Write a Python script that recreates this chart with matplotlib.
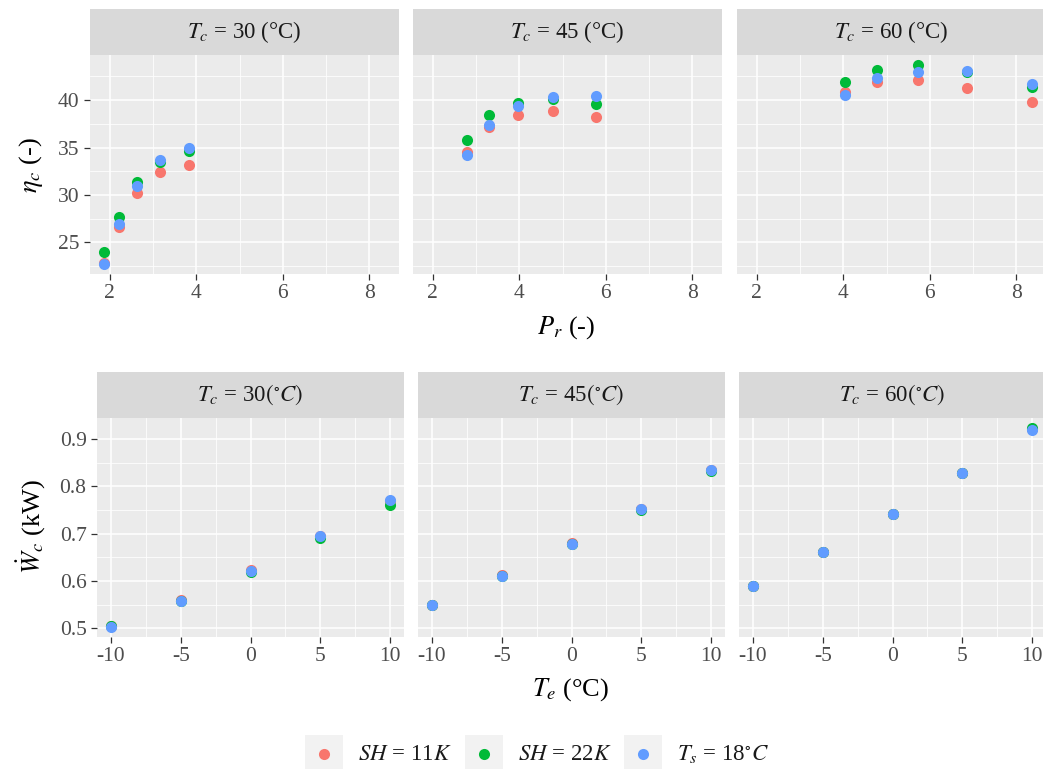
import matplotlib
matplotlib.use("Agg")
import matplotlib.pyplot as plt
from matplotlib.patches import Rectangle
from matplotlib.ticker import MultipleLocator, FormatStrFormatter

# fonts: Times-like text, STIX for the math parts
plt.rcParams['font.family'] = ['Liberation Serif', 'DejaVu Serif']
plt.rcParams['mathtext.fontset'] = 'stix'
plt.rcParams['axes.unicode_minus'] = False

# ---- data ----
series_labels = [r"$SH$ = 11$K$", r"$SH$ = 22$K$", r"$T_s$ = 18$^{\circ}C$"]
series_colors = ['#F8766D', '#00BA38', '#619CFF']
tc_values = [30, 45, 60]

# pressure ratio (x of the top row) for each condensing temperature
pr_30 = [1.87, 2.21, 2.63, 3.17, 3.84]
pr_45 = [2.80, 3.31, 3.96, 4.77, 5.78]
pr_60 = [4.04, 4.79, 5.72, 6.87, 8.36]

# efficiency eta_c (-)
eta_30_sh11 = [22.86, 26.66, 30.22, 32.40, 33.18]
eta_30_sh22 = [24.00, 27.72, 31.38, 33.45, 34.58]
eta_30_ts18 = [22.72, 26.95, 30.92, 33.70, 35.00]

eta_45_sh11 = [34.50, 37.12, 38.42, 38.84, 38.20]
eta_45_sh22 = [35.82, 38.38, 39.72, 40.15, 39.58]
eta_45_ts18 = [34.23, 37.40, 39.37, 40.32, 40.46]

eta_60_sh11 = [40.85, 41.87, 42.08, 41.27, 39.76]
eta_60_sh22 = [41.90, 43.20, 43.70, 42.96, 41.34]
eta_60_ts18 = [40.50, 42.32, 42.96, 43.10, 41.69]

# evaporating temperature (x of the bottom row)
te = [-10, -5, 0, 5, 10]

# compressor power W_c (kW)
w_30_sh11 = [0.504, 0.560, 0.622, 0.694, 0.768]
w_30_sh22 = [0.505, 0.558, 0.618, 0.690, 0.761]
w_30_ts18 = [0.503, 0.557, 0.620, 0.694, 0.770]

w_45_sh11 = [0.549, 0.612, 0.680, 0.752, 0.834]
w_45_sh22 = [0.549, 0.611, 0.678, 0.750, 0.832]
w_45_ts18 = [0.549, 0.611, 0.679, 0.751, 0.835]

w_60_sh11 = [0.590, 0.662, 0.741, 0.828, 0.921]
w_60_sh22 = [0.590, 0.662, 0.741, 0.828, 0.924]
w_60_ts18 = [0.590, 0.662, 0.741, 0.828, 0.919]

top_x = [pr_30, pr_45, pr_60]
top_y = [[eta_30_sh11, eta_30_sh22, eta_30_ts18],
         [eta_45_sh11, eta_45_sh22, eta_45_ts18],
         [eta_60_sh11, eta_60_sh22, eta_60_ts18]]
bot_y = [[w_30_sh11, w_30_sh22, w_30_ts18],
         [w_45_sh11, w_45_sh22, w_45_ts18],
         [w_60_sh11, w_60_sh22, w_60_ts18]]

# ---- figure ----
W, H = 1043, 769
fig = plt.figure(figsize=(W / 100, H / 100), dpi=100)


def px_axes(x0, y0, x1, y1, **kw):
    # axes placed with pixel edges (origin top-left)
    return fig.add_axes([x0 / W, 1 - y1 / H, (x1 - x0) / W, (y1 - y0) / H], **kw)


def gg_style(ax):
    ax.set_facecolor('#EBEBEB')
    for s in ax.spines.values():
        s.set_visible(False)
    ax.grid(True, which='major', color='white', linewidth=1.1)
    ax.grid(True, which='minor', color='white', linewidth=0.55)
    ax.set_axisbelow(True)
    ax.tick_params(which='major', length=4.5, width=0.9, color='#333333',
                   labelcolor='#4D4D4D', labelsize=15.5, pad=3)
    ax.tick_params(which='minor', length=0)


def strip(x0, x1, y0, y1, text):
    s = px_axes(x0, y0, x1, y1)
    s.set_facecolor('#D9D9D9')
    s.set_xticks([])
    s.set_yticks([])
    for sp in s.spines.values():
        sp.set_visible(False)
    s.text(0.5, 0.5, text, ha='center', va='center', fontsize=16.5,
           color='#1A1A1A', transform=s.transAxes)


# top row: eta_c vs P_r
top_cols = [(90, 399), (413, 722), (737, 1046)]
top_axes = []
for i, (x0, x1) in enumerate(top_cols):
    share = top_axes[0] if top_axes else None
    ax = px_axes(x0, 55, x1, 274, sharex=share, sharey=share)
    gg_style(ax)
    for ys, c in zip(top_y[i], series_colors):
        ax.scatter(top_x[i], ys, s=64, color=c, linewidths=0, zorder=3)
    ax.xaxis.set_major_locator(MultipleLocator(2))
    ax.xaxis.set_minor_locator(MultipleLocator(1))
    ax.yaxis.set_major_locator(MultipleLocator(5))
    ax.yaxis.set_minor_locator(MultipleLocator(2.5))
    if i > 0:
        ax.tick_params(axis='y', which='both', left=False, labelleft=False)
    top_axes.append(ax)
    strip(x0, x1, 9, 55, r"$T_c$ = %d (°C)" % tc_values[i])

# bottom row: W_c vs T_e
bot_cols = [(97, 404), (418, 725), (739, 1046)]
bot_axes = []
for i, (x0, x1) in enumerate(bot_cols):
    share = bot_axes[0] if bot_axes else None
    ax = px_axes(x0, 417.7, x1, 636.7, sharex=share, sharey=share)
    gg_style(ax)
    for ys, c in zip(bot_y[i], series_colors):
        ax.scatter(te, ys, s=64, color=c, linewidths=0, zorder=3)
    ax.xaxis.set_major_locator(MultipleLocator(5))
    ax.xaxis.set_minor_locator(MultipleLocator(2.5))
    ax.yaxis.set_major_locator(MultipleLocator(0.1))
    ax.yaxis.set_minor_locator(MultipleLocator(0.05))
    ax.yaxis.set_major_formatter(FormatStrFormatter('%.1f'))
    if i > 0:
        ax.tick_params(axis='y', which='both', left=False, labelleft=False)
    bot_axes.append(ax)
    strip(x0, x1, 372, 417.7, r"$T_c$ = %d$(^{\circ}C)$" % tc_values[i])

# axis titles
fig.text(566 / W, 1 - 328 / H, r"$P_r$ (-)", ha='center', va='center', fontsize=19)
fig.text(31 / W, 1 - 165 / H, r"$\eta_c$ (-)", ha='center', va='center',
         fontsize=19, rotation=90)
fig.text(571 / W, 1 - 690 / H, r"$T_e$ (°C)", ha='center', va='center', fontsize=19)
fig.text(31 / W, 1 - 527 / H, r"$\dot{W}_c$ (kW)", ha='center', va='center',
         fontsize=19, rotation=90)

# legend at the bottom, drawn by hand to get the grey key boxes
leg = px_axes(0, 700, W, H)
leg.set_xlim(0, W)
leg.set_ylim(H, 700)
leg.axis('off')
key_left = [305, 465, 624]
for xk, lab, c in zip(key_left, series_labels, series_colors):
    leg.add_patch(Rectangle((xk, 735), 38, 38, facecolor='#F2F2F2', edgecolor='none'))
    leg.scatter([xk + 19], [754], s=64, color=c, linewidths=0)
    leg.text(xk + 53, 754, lab, ha='left', va='center', fontsize=16.5, color='#1A1A1A')

fig.savefig('out.png', dpi=100)
